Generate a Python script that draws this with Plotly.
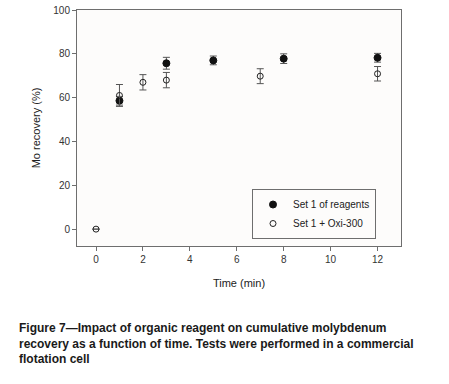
import plotly.graph_objects as go

# Data
set1_time = [1, 3, 5, 8, 12]
set1_recovery = [58.6, 75.7, 77.0, 77.8, 78.2]
set1_err = [2.0, 2.7, 2.0, 2.2, 2.0]

oxi_time = [0, 1, 2, 3, 7, 12]
oxi_recovery = [0.0, 61.0, 67.0, 68.0, 69.8, 70.9]
oxi_err = [0.0, 5.0, 3.5, 3.5, 3.4, 3.3]

x_ticks = [0, 2, 4, 6, 8, 10, 12]
y_ticks = [0, 20, 40, 60, 80, 100]

FONT = "Liberation Sans, Arial, sans-serif"
GRAY = "#6e6e6e"

fig = go.Figure()
fig.add_trace(go.Scatter(
    x=set1_time, y=set1_recovery, mode="markers", name="Set 1 of reagents",
    marker=dict(symbol="circle", size=7, color="#111111", line=dict(color="#111111", width=1)),
    error_y=dict(type="data", array=set1_err, visible=True, color="#555555", thickness=1, width=3.5),
))
fig.add_trace(go.Scatter(
    x=oxi_time, y=oxi_recovery, mode="markers", name="Set 1 + Oxi-300",
    marker=dict(symbol="circle-open", size=6, color="#222222", line=dict(color="#222222", width=1)),
    error_y=dict(type="data", array=oxi_err, visible=True, color="#555555", thickness=1, width=3.5),
))

fig.update_layout(
    width=449, height=384,
    margin=dict(l=77, r=48, t=10, b=138, autoexpand=False),
    paper_bgcolor="#ffffff", plot_bgcolor="#fdfcfb",
    font=dict(family=FONT, size=10, color="#333333"),
    showlegend=True,
    legend=dict(
        x=(252 - 77) / 324, y=(246 - 189) / 236, xanchor="left", yanchor="top",
        bgcolor="rgba(0,0,0,0)", bordercolor=GRAY, borderwidth=1,
        font=dict(family=FONT, size=10, color="#222222"),
        itemwidth=30, tracegroupgap=0,
    ),
    xaxis=dict(
        range=[-0.81, 13.0], tickvals=x_ticks, ticktext=[str(v) for v in x_ticks],
        showgrid=False, zeroline=False, showline=True, linecolor=GRAY, linewidth=1,
        mirror=True, ticks="outside", ticklen=4, tickcolor=GRAY, automargin=False,
        title=dict(text="Time (min)", font=dict(size=11, color="#222222"), standoff=15),
    ),
    yaxis=dict(
        range=[-7.7, 100], tickvals=y_ticks, ticktext=[str(v) for v in y_ticks],
        showgrid=False, zeroline=False, showline=True, linecolor=GRAY, linewidth=1,
        mirror=True, ticks="outside", ticklen=4, tickcolor=GRAY, automargin=False,
        title=dict(text="Mo recovery (%)", font=dict(size=11, color="#222222"), standoff=10),
    ),
)

fig.add_annotation(
    xref="paper", yref="paper", x=(17 - 77) / 324, y=(246 - 319) / 236,
    xanchor="left", yanchor="top", align="left", showarrow=False,
    text="<b>Figure 7\u2014Impact of organic reagent on cumulative molybdenum<br>"
         "recovery as a function of time. Tests were performed in a commercial<br>"
         "flotation cell</b>",
    font=dict(family=FONT, size=12, color="#1a1a1a"),
)

fig.write_html("out.html", config={"displayModeBar": False},
               post_script="document.body.style.margin='0';document.body.style.overflow='hidden';")
